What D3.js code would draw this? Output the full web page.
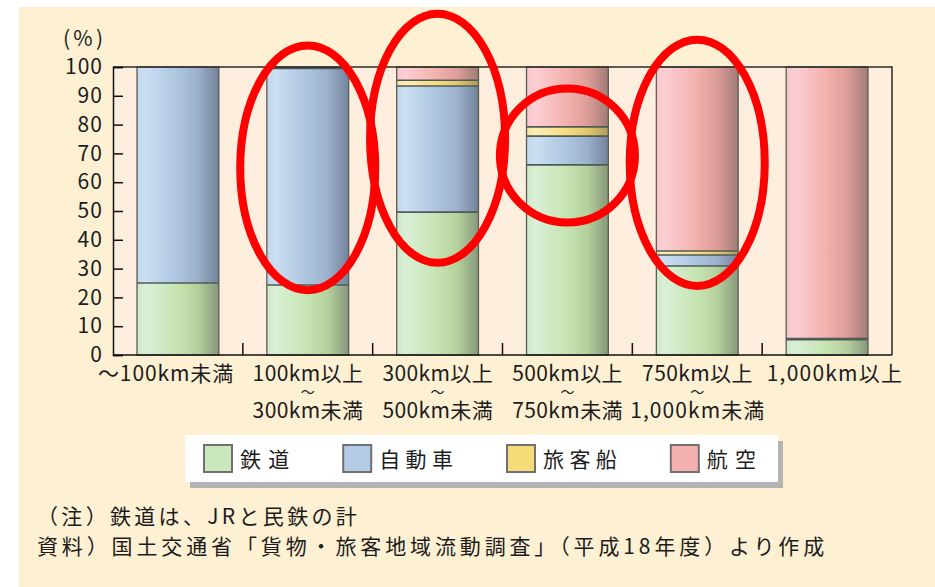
<!DOCTYPE html>
<html lang="ja">
<head>
<meta charset="UTF-8">
<title>距離帯別 輸送機関分担率</title>
<script src="https://d3js.org/d3.v7.min.js"></script>
<style>
  body { margin: 0; background: #fff; font-family: "Noto Sans CJK JP", sans-serif; }
  text { fill: #1c1c1c; }
</style>
</head>
<body>
<div id="chart"></div>
<script>
// distance bands
const categories = ["～100km未満", "100km以上～300km未満", "300km以上～500km未満",
                    "500km以上～750km未満", "750km以上～1,000km未満", "1,000km以上"];
const seriesNames = ["鉄道", "自動車", "旅客船", "航空"];
// share (%) for each band
const railway    = [25.0, 24.3, 49.6, 66.0, 30.9, 5.3];
const automobile = [75.0, 75.2, 43.8, 10.0,  3.8, 0.4];
const ship       = [ 0.0,  0.2,  2.0,  3.2,  1.4, 0.0];
const air        = [ 0.0,  0.3,  4.6, 20.8, 63.9, 94.3];
const yTicks = [0, 10, 20, 30, 40, 50, 60, 70, 80, 90, 100];
const notes = ["（注）鉄道は、JRと民鉄の計",
               "資料）国土交通省「貨物・旅客地域流動調査」（平成18年度）より作成"];
// red hand-drawn circles: band index + value range they cover
const circled = [{ i: 1, lo: 22.5, hi: 107.5 }, { i: 2, lo: 32, hi: 118.5 },
                 { i: 3, lo: 46, hi: 92.5 }, { i: 4, lo: 24, hi: 109.5 }];

const W = 935, H = 587;
const plot = { left: 113, right: 892, top: 67, bottom: 355 };

const colors = {
  "鉄道":   ["#cfe6c6", "#d9f0d6", "#c6e4b2", "#b3cf9c", "#86987a"],
  "自動車": ["#c3d6ea", "#cadff2", "#adc4df", "#9bb0ca", "#73829a"],
  "旅客船": ["#f5e4a0", "#fbeeb0", "#f5dc80", "#e0c66c", "#ac9a58"],
  "航空":   ["#f6c6ca", "#fccfd4", "#f2b0ac", "#dc9c98", "#a07c76"]
};
const swatch = { "鉄道": "#c9e8bd", "自動車": "#b5cce6", "旅客船": "#f5dc79", "航空": "#f4b0af" };

// monospace-like gothic: full width = 1em, ascii = half
const EM = 24.6;
const textW = s => d3.sum(Array.from(s), ch => ch.charCodeAt(0) > 0xff ? 1 : 0.5) * EM;
const fit = (sel, s) => sel.text(s).attr("textLength", textW(s)).attr("lengthAdjust", "spacing");
// same idea for tspans: spread via letter-spacing
const spread = (ts, s) => {
  ts.text(s);
  const n = Array.from(s).length;
  const extra = (textW(s) - ts.node().getComputedTextLength()) / n;
  ts.attr("letter-spacing", extra).attr("dx", extra / 2);
};

const table = categories.map((c, i) => ({
  cat: c, "鉄道": railway[i], "自動車": automobile[i], "旅客船": ship[i], "航空": air[i]
}));
const stacked = d3.stack().keys(seriesNames)(table);

const svg = d3.select("#chart").append("svg")
  .attr("width", W).attr("height", H)
  .style("font-family", '"Noto Sans CJK JP", sans-serif')
  .style("font-size", "21px");

const defs = svg.append("defs");
seriesNames.forEach((k, j) => {
  const g = defs.append("linearGradient").attr("id", "g" + j)
    .attr("x1", 0).attr("x2", 1).attr("y1", 0).attr("y2", 0);
  [0, 0.1, 0.5, 0.75, 1].forEach((o, n) =>
    g.append("stop").attr("offset", o).attr("stop-color", colors[k][n]));
});

// page background
svg.append("rect").attr("x", 19).attr("y", 7).attr("width", W - 19).attr("height", H - 7)
  .attr("fill", "#fef0d3");
svg.append("rect").attr("x", plot.left).attr("y", plot.top)
  .attr("width", plot.right - plot.left).attr("height", plot.bottom - plot.top)
  .attr("fill", "#fdeede");

const x = d3.scaleBand().domain(categories).range([plot.left, plot.right])
  .paddingInner(0.37).paddingOuter(0.185);
const y = d3.scaleLinear().domain([0, 100]).range([plot.bottom, plot.top]);
const bw = x.bandwidth();

// bars
const bars = svg.append("g");
stacked.forEach((layer, j) => {
  bars.selectAll(null).data(layer).join("rect")
    .attr("x", d => x(d.data.cat))
    .attr("y", d => y(d[1]))
    .attr("width", bw)
    .attr("height", d => y(d[0]) - y(d[1]))
    .attr("fill", `url(#g${j})`);
});
// segment borders
stacked.forEach(layer => {
  bars.selectAll(null).data(layer.filter(d => d[1] - d[0] > 0 && d[1] < 100)).join("line")
    .attr("x1", d => x(d.data.cat)).attr("x2", d => x(d.data.cat) + bw)
    .attr("y1", d => y(d[1])).attr("y2", d => y(d[1]))
    .attr("stroke", "#4e5a58").attr("stroke-width", 1.6);
});
bars.selectAll(null).data(categories).join("rect")
  .attr("x", d => x(d)).attr("y", y(100)).attr("width", bw).attr("height", y(0) - y(100))
  .attr("fill", "none").attr("stroke", "#5c5c55").attr("stroke-width", 1.3);

// frame top / right
svg.append("path")
  .attr("d", `M${plot.left},${plot.top}H${plot.right}V${plot.bottom}`)
  .attr("fill", "none").attr("stroke", "#2a2a2a").attr("stroke-width", 1.5);

// y axis
const yAxis = svg.append("g").attr("transform", `translate(${plot.left},0)`)
  .call(d3.axisLeft(y).tickValues(yTicks).tickSize(-10).tickPadding(11).tickFormat(d3.format("d")));
yAxis.select(".domain").attr("stroke", "#111").attr("stroke-width", 1.5);
yAxis.selectAll(".tick line").attr("stroke", "#111").attr("stroke-width", 1.5);
yAxis.selectAll(".tick text").attr("font-size", 21).attr("fill", "#1c1c1c")
  .attr("font-family", '"Noto Sans CJK JP", sans-serif')
  .each(function (d) { fit(d3.select(this), String(d)); });

svg.append("text").attr("x", 103).attr("y", 46).attr("text-anchor", "end")
  .call(fit, "(%)").attr("textLength", 40);

// x axis
svg.append("line").attr("x1", plot.left).attr("x2", plot.right)
  .attr("y1", plot.bottom).attr("y2", plot.bottom)
  .attr("stroke", "#111").attr("stroke-width", 1.5);
const step = x.step();
svg.selectAll(".xtick").data(categories.slice(1)).join("line")
  .attr("class", "xtick")
  .attr("x1", d => x(d) - step * x.paddingInner() / 2)
  .attr("x2", d => x(d) - step * x.paddingInner() / 2)
  .attr("y1", plot.bottom).attr("y2", plot.bottom - 12)
  .attr("stroke", "#111").attr("stroke-width", 1.5);

const xl = svg.append("g");
categories.forEach((c, i) => {
  const cx = x(c) + bw / 2;
  if (c.includes("以上～")) {
    // one text element: upper line, small wave, lower line
    const [top, bottom] = c.split("～");
    const t = xl.append("text").attr("text-anchor", "middle");
    spread(t.append("tspan").attr("x", cx).attr("y", 381), top);
    t.append("tspan").attr("x", cx).attr("y", 397).attr("font-size", 14).text("～");
    spread(t.append("tspan").attr("x", cx).attr("y", 418), bottom);
  } else {
    // a leading "～" hangs out to the left of the centred part; the last label sits against the frame
    const rest = c.replace(/^～/, "");
    let x0 = cx - textW(rest) / 2 - (textW(c) - textW(rest));
    if (i === categories.length - 1) x0 = Math.min(plot.right + 10 - textW(c), cx + 10 - textW(c) / 2);
    xl.append("text").attr("x", x0).attr("y", 381).call(fit, c);
  }
});

// legend
const lg = svg.append("g");
lg.append("rect").attr("x", 190).attr("y", 441).attr("width", 593).attr("height", 47).attr("fill", "#b4b4b4");
lg.append("rect").attr("x", 185).attr("y", 435).attr("width", 593).attr("height", 47).attr("fill", "#fff");
let lx = 204;
seriesNames.forEach(k => {
  lg.append("rect").attr("x", lx).attr("y", 445).attr("width", 28).attr("height", 27)
    .attr("fill", swatch[k]).attr("stroke", "#707070").attr("stroke-width", 2);
  lg.append("text").attr("x", lx + 36).attr("y", 467).call(fit, k);
  lx += 36 + textW(k) + 54;
});

// notes
svg.selectAll(".note").data(notes).join("text")
  .attr("class", "note")
  .attr("x", 37).attr("y", (d, i) => 524 + i * 30)
  .each(function (d) { fit(d3.select(this), d); });

// red circles over the figure
svg.append("g").selectAll("ellipse").data(circled).join("ellipse")
  .attr("cx", d => x(categories[d.i]) + bw / 2)
  .attr("cy", d => (y(d.lo) + y(d.hi)) / 2)
  .attr("rx", step * 0.52)
  .attr("ry", d => (y(d.lo) - y(d.hi)) / 2)
  .attr("fill", "none").attr("stroke", "#ff0000").attr("stroke-width", 8);
</script>
</body>
</html>
